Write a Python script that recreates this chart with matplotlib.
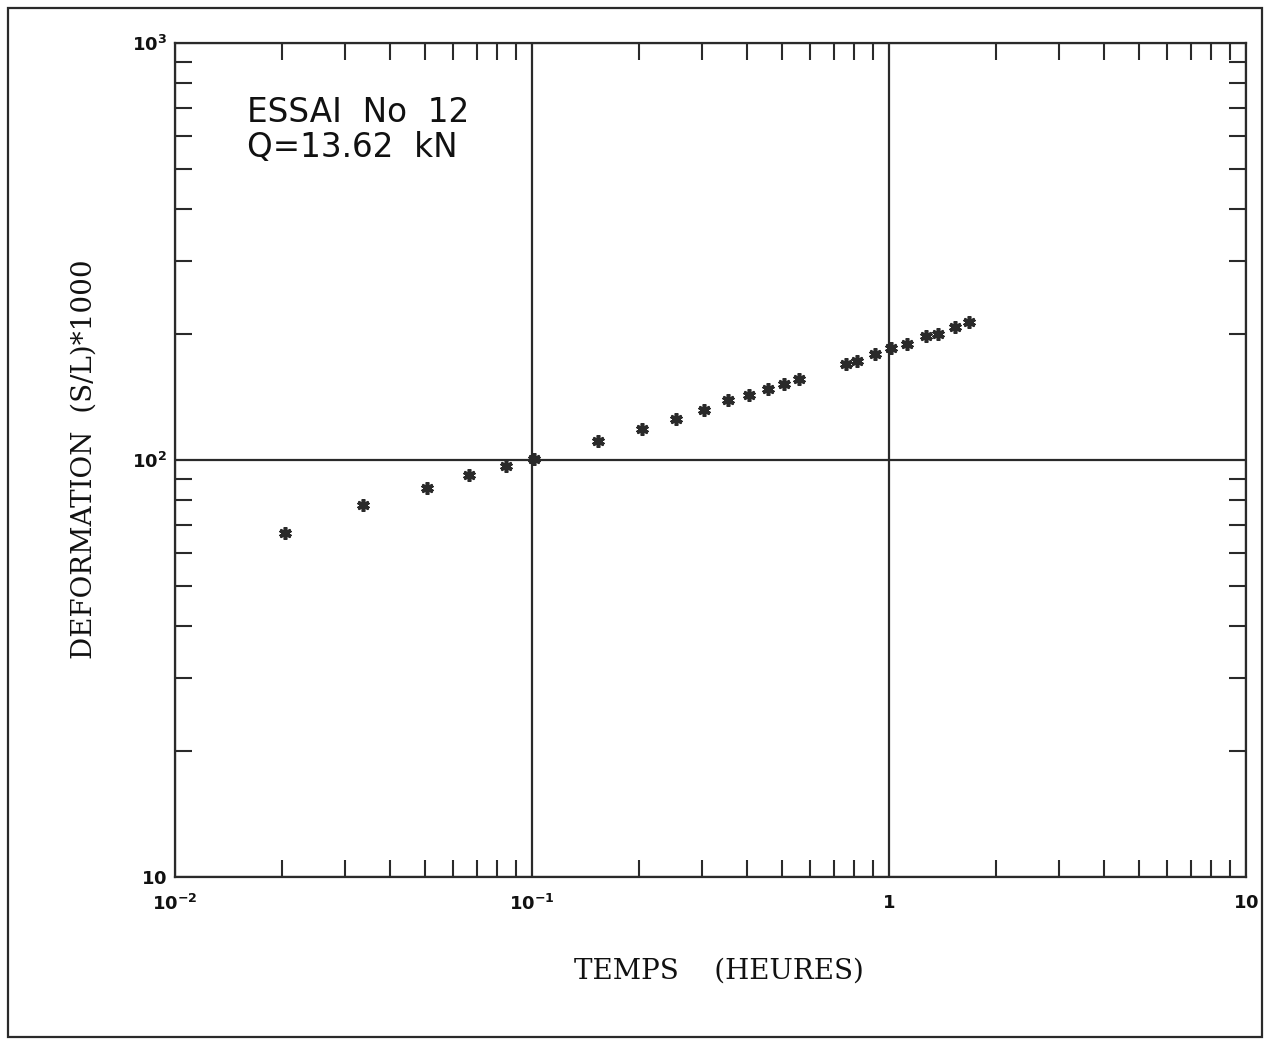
import matplotlib
matplotlib.use("Agg")
import matplotlib.pyplot as plt
from matplotlib.patches import Rectangle
from matplotlib.ticker import FixedLocator, LogLocator, NullFormatter

# Creep test: time (hours) vs deformation (S/L)*1000
temps_h = [0.0203, 0.0336, 0.0507, 0.0667, 0.0844, 0.101, 0.153, 0.203, 0.253,
           0.303, 0.355, 0.406, 0.457, 0.509, 0.560, 0.758, 0.812, 0.913,
           1.01, 1.12, 1.27, 1.375, 1.53, 1.68]
deformation = [66.8, 78.1, 85.8, 91.9, 96.6, 100.5, 111.1, 118.9, 125.6,
               132.0, 139.5, 142.9, 147.7, 151.9, 156.1, 170.2, 172.7, 179.2,
               185.6, 189.4, 198.0, 200.9, 208.4, 214.3]

x_ticks = [0.01, 0.1, 1, 10]
x_tick_labels = [r"$\mathbf{10^{-2}}$", r"$\mathbf{10^{-1}}$", r"$\mathbf{1}$", r"$\mathbf{10}$"]
y_ticks = [10, 100, 1000]
y_tick_labels = [r"$\mathbf{10}$", r"$\mathbf{10^{2}}$", r"$\mathbf{10^{3}}$"]

ink = "#2a2a2a"

fig = plt.figure(figsize=(12.67, 10.41), dpi=100)
ax = fig.add_axes([175 / 1267, 164 / 1041, 1071 / 1267, 834 / 1041])

ax.set_xscale("log")
ax.set_yscale("log")
ax.set_xlim(0.01, 10)
ax.set_ylim(10, 1000)

ax.plot(temps_h, deformation, linestyle="none", marker=(6, 2, 0),
        markersize=9, markeredgewidth=2.6, color=ink, markeredgecolor=ink)

for s in ax.spines.values():
    s.set_linewidth(1.6)
    s.set_color(ink)

ax.xaxis.set_major_locator(FixedLocator(x_ticks))
ax.yaxis.set_major_locator(FixedLocator(y_ticks))
ax.set_xticklabels(x_tick_labels)
ax.set_yticklabels(y_tick_labels)
ax.xaxis.set_minor_locator(LogLocator(base=10, subs=range(2, 10)))
ax.yaxis.set_minor_locator(LogLocator(base=10, subs=range(2, 10)))
ax.xaxis.set_minor_formatter(NullFormatter())
ax.yaxis.set_minor_formatter(NullFormatter())

ax.tick_params(which="minor", direction="in", length=12, width=1.5, color=ink,
               top=True, right=True, bottom=True, left=True)
ax.tick_params(which="major", direction="in", length=0, labelsize=13,
               labelcolor="#111111", top=False, right=False)
ax.tick_params(axis="x", which="major", pad=12)
ax.tick_params(axis="y", which="major", pad=6)

ax.grid(True, which="major", color=ink, linewidth=1.6)

ax.set_xlabel("TEMPS    (HEURES)", family="DejaVu Serif", fontsize=20,
              color="#111111")
ax.xaxis.set_label_coords(0.5075, -0.097)
ax.set_ylabel("DEFORMATION  (S/L)*1000", family="DejaVu Serif", fontsize=20,
              color="#111111")
ax.yaxis.set_label_coords(-0.072, 0.501)

ax.text(0.067, 0.936, "ESSAI  No  12\nQ=13.62  kN", transform=ax.transAxes,
        ha="left", va="top", fontsize=23.5, family="DejaVu Sans",
        color="#111111", linespacing=1.08)

fig.patches.append(Rectangle((8 / 1267, 4 / 1041), 1254 / 1267, 1029 / 1041,
                             transform=fig.transFigure, fill=False,
                             edgecolor=ink, linewidth=1.6))

fig.savefig("out.png", dpi=100)
